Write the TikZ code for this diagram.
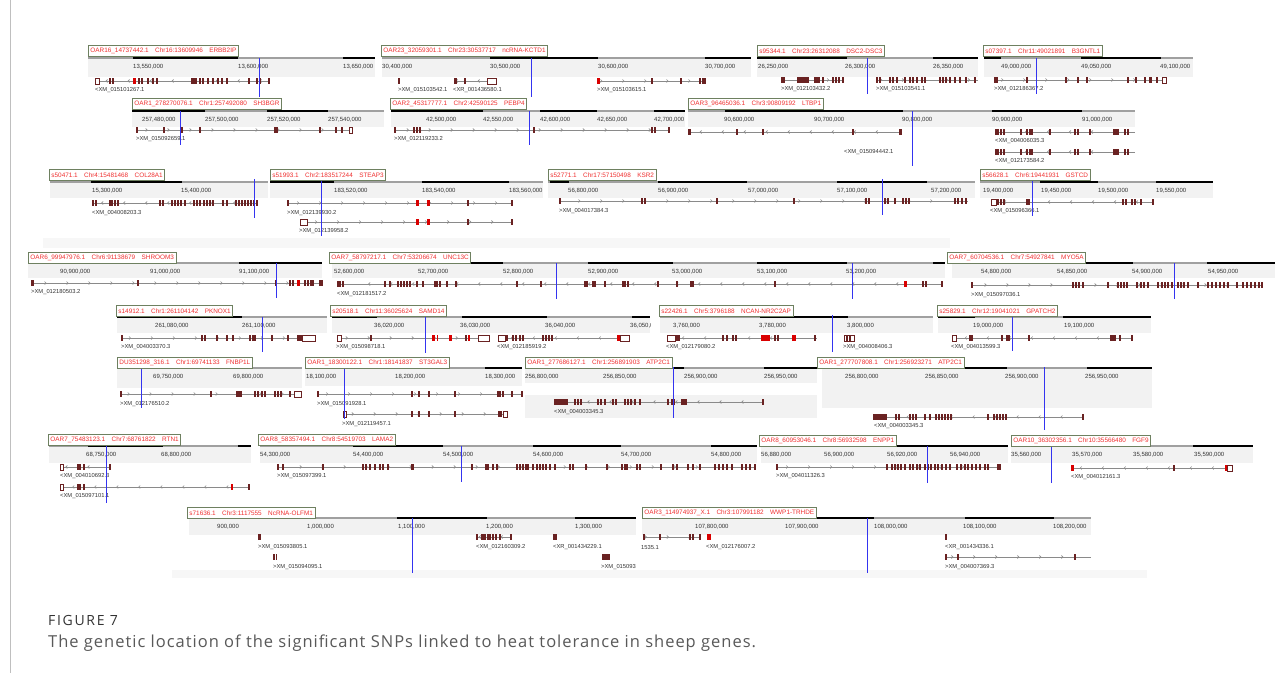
\documentclass[tikz,border=0pt]{standalone}
\usepackage{fontspec}
\setmainfont{Liberation Sans}
\newfontfamily\capfont{Open Sans}
\usetikzlibrary{decorations.markings,arrows.meta}
\definecolor{boxc}{HTML}{6E8060}
\definecolor{labred}{HTML}{F03030}
\definecolor{exc}{HTML}{6A2222}
\definecolor{snp}{HTML}{3434F0}
\definecolor{bandc}{HTML}{F2F2F2}
\definecolor{rulegray}{HTML}{A0A0A0}
\definecolor{gline}{HTML}{8A8A8A}
\newcounter{nn}
\newcommand\Lab[3]{\stepcounter{nn}\node[labbox,anchor=north west] (L\arabic{nn}) at (#1,#2) {#3};}
\newcommand\Band[4]{\fill[bandc] (#2,#1) rectangle (#3,#1+#4);}
\newcommand\Bar[3]{\draw[rulerg] (#2,#1) -- (#3,#1);}
\newcommand\Blk[3]{\draw[rulerb] (#2,#1) -- (#3,#1);}
\newcommand\Tk[3]{\stepcounter{nn}\node[tick,anchor=west] (T\arabic{nn}) at (#2,#1+9) {#3};}
\newcommand\Gn[4]{\draw[gl,#1] (#3,#2) -- (#4,#2);}
\newcommand\Ex[2]{\foreach \e in {#2}{\fill[exc] (\e-0.55,#1-3.2) rectangle (\e+0.55,#1+3.2);}}
\newcommand\Rx[3]{\fill[red!85!black] (#2,#1-3.2) rectangle (#2+#3,#1+3.2);}
\newcommand\Dx[3]{\fill[exc] (#2,#1-3.2) rectangle (#2+#3,#1+3.2);}
\newcommand\Ob[3]{\filldraw[fill=white,draw=exc,line width=.6pt] (#2,#1-3) rectangle (#3,#1+3);}
\newcommand\Gt[3]{\stepcounter{nn}\node[gtext,anchor=west] (G\arabic{nn}) at (#2,#1) {#3};}
\newcommand\Snp[3]{\draw[snpl] (#1,#2) -- (#1,#3);}
\tikzset{
 labbox/.style={draw=boxc,line width=0.9pt,fill=white,text=labred,font=\fontsize{6.4}{7}\selectfont,inner xsep=2pt,inner ysep=0pt,minimum height=11pt},
 tick/.style={font=\fontsize{6}{7}\selectfont,text=black!80,inner sep=0pt},
 gtext/.style={font=\fontsize{5.8}{7}\selectfont,text=black!80,inner sep=0pt},
 rulerg/.style={line width=2.2pt,draw=rulegray},
 rulerb/.style={line width=2.2pt,draw=black},
 gl/.style={draw=gline,line width=0.6pt},
 snpl/.style={draw=snp,line width=0.9pt},
 fwd/.style={postaction={decorate,decoration={markings,mark=between positions 0.05 and 0.95 step 22pt with {\arrow[gline]{Straight Barb[length=1.5pt,width=3pt]}}}}},
 rev/.style={postaction={decorate,decoration={markings,mark=between positions 0.05 and 0.95 step 22pt with {\arrowreversed[gline]{Straight Barb[length=1.5pt,width=3pt]}}}}},
 nodir/.style={}
}
\begin{document}
\begin{tikzpicture}[x=1pt,y=-1pt]
\fill[white] (0,0) rectangle (1281,673);
\useasboundingbox (0,0) rectangle (1281,673);
\draw[black!25,line width=1pt] (10,0) -- (10,673);
% faint strips
\fill[black!3] (43,238) rectangle (950,248);
\fill[black!3] (172,570) rectangle (1147,578);
% ================= ROW 1 =================
% P1
\Band{58}{88}{375}{19}\Bar{58}{88}{375}\Blk{58}{133}{238}\Blk{58}{343}{375}
\Tk{58}{133}{13,550,000}\Tk{58}{238}{13,600,000}\Tk{58}{343}{13,650,000}
\Gn{rev}{81}{97}{270}\Ob{81}{95}{99}\Ex{81}{110,113,139,142,148,153,157,192,194,196,200,203,208,213,218,222,227,249,257,260,269}\Rx{81}{132.5}{3}
\Gt{81+9}{95}{<XM\_015101267.1}
\Snp{259}{58}{97}
\Lab{88}{45}{OAR16\_14737442.1\quad Chr16:13609946\quad ERBB2IP}
% P2
\Band{58}{382}{751}{19}\Bar{58}{382}{751}\Blk{58}{490}{598}\Blk{58}{705}{751}
\Tk{58}{382}{30,400,000}\Tk{58}{490}{30,500,000}\Tk{58}{598}{30,600,000}\Tk{58}{705}{30,700,000}
\Ex{81}{399}\Gt{90}{398}{>XM\_015103542.1}
\Gn{rev}{81}{454}{487}\Ex{81}{454.5,456,465}\Ob{81}{487}{496}\Gt{90}{453}{<XR\_001436580.1}
\Gn{fwd}{81}{597}{705}\Rx{81}{597}{2.5}\Ex{81}{652,681,700,703,705}\Gt{90}{597}{>XM\_015103615.1}
\Snp{531}{58}{97}
\Lab{381}{45}{OAR23\_32059301.1\quad Chr23:30537717\quad ncRNA-KCTD1}
% P3
\Band{58}{757}{978}{19}\Bar{58}{757}{978}\Blk{58}{757}{847}\Blk{58}{933}{978}
\Tk{58}{758}{26,250,000}\Tk{58}{845}{26,300,000}\Tk{58}{933}{26,350,000}
\Gn{fwd}{80}{782}{844}\Ex{80}{782,784,798,800,802,804,806,808,815,817,819,823,833,836,839,843}\Gt{89}{781}{>XM\_012103432.2}
\Gn{fwd}{80}{877}{978}\Ex{80}{877,880,890,893,897,905,910,913,917,922,925,940,943,946,950,955,960,966,975}\Gt{89}{876}{>XM\_015103541.1}
\Snp{867}{58}{94}
\Lab{757}{45}{s95344.1\quad Chr23:26312088\quad DSC2-DSC3}
% P4
\Band{58}{984}{1193}{19}\Bar{58}{984}{1193}\Blk{58}{984}{1001}\Blk{58}{1081}{1161}
\Tk{58}{1001}{49,000,000}\Tk{58}{1081}{49,050,000}\Tk{58}{1160}{49,100,000}
\Gn{fwd}{80}{995}{1162}\Ex{80}{995,997,1027,1066,1078,1087,1128,1136,1145,1150,1151,1157}\Ob{80}{1162}{1166}\Gt{89}{994}{>XM\_012186367.2}
\Snp{1036}{58}{94}
\Lab{983}{45}{s07397.1\quad Chr11:49021891\quad B3GNTL1}
% ================= ROW 2 =================
% P5
\Band{111}{132}{384}{16}\Bar{111}{132}{384}\Blk{111}{132}{205}\Blk{111}{267}{328}
\Tk{111}{142}{257,480,000}\Tk{111}{205}{257,500,000}\Tk{111}{267}{257,520,000}\Tk{111}{328}{257,540,000}
\Gn{fwd}{130}{137}{349}\Ex{130}{137,164,182,200,275,277,320,336,342}\Ob{130}{349}{352}\Gt{139}{136}{>XM\_015092659.1}
\Snp{180}{111}{145}
\Lab{132}{98}{OAR1\_278270076.1\quad Chr1:257492080\quad SH3BGR}
% P6
\Band{111}{391}{685}{16}\Bar{111}{391}{685}\Blk{111}{391}{483}\Blk{111}{540}{597}\Blk{111}{654}{685}
\Tk{111}{426}{42,500,000}\Tk{111}{483}{42,550,000}\Tk{111}{540}{42,600,000}\Tk{111}{597}{42,650,000}\Tk{111}{654}{42,700,000}
\Gn{fwd}{130}{395}{670}\Ex{130}{395,414,417,420,534,652,655,669}\Gt{139}{394}{>XM\_012119233.2}
\Snp{529}{111}{145}
\Lab{390}{98}{OAR2\_45317777.1\quad Chr2:42590125\quad PEBP4}
% P7
\Band{111}{688}{1135}{16}\Bar{111}{688}{1135}\Blk{111}{725}{903}\Blk{111}{992}{1082}
\Tk{111}{724}{90,600,000}\Tk{111}{814}{90,700,000}\Tk{111}{902}{90,800,000}\Tk{111}{992}{90,900,000}\Tk{111}{1082}{91,000,000}
\Gn{rev}{132}{689}{902}\Ex{132}{689,690,737,763,853,900,901}\Gt{152}{844}{<XM\_015094442.1}
\Gn{rev}{132}{996}{1135}\Ex{132}{996,998,1001,1004,1021,1027,1030,1032,1050,1075,1078,1090,1114,1116,1118,1125,1128}\Gt{141}{995}{<XM\_004006035.3}
\Gn{rev}{152}{996}{1135}\Ex{152}{996,998,1001,1004,1021,1027,1030,1032,1050,1075,1078,1090,1114,1116,1118,1125,1128}\Gt{161}{995}{<XM\_012173584.2}
\Snp{912}{111}{166}
\Lab{688}{98}{OAR3\_96465036.1\quad Chr3:90809192\quad LTBP1}
% ================= ROW 3 =================
% P8
\Band{182}{50}{268}{16}\Bar{182}{50}{268}\Blk{182}{91}{182}
\Tk{182}{92}{15,300,000}\Tk{182}{181}{15,400,000}
\Gn{rev}{203}{93}{257}\Ex{203}{93,96,110,112,115,118,160,163,172,175,178,181,185,194,197,200,204,207,210,213,223,227,236,239,242,245,248,251,254,257}\Gt{213}{92}{<XM\_004008203.3}
\Snp{254}{179}{218}
\Lab{49}{169}{s50471.1\quad Chr4:15481468\quad COL28A1}
% P9
\Band{182}{270}{543}{16}\Bar{182}{270}{543}\Blk{182}{270}{334}\Blk{182}{422}{509}
\Tk{182}{334}{183,520,000}\Tk{182}{422}{183,540,000}\Tk{182}{509}{183,560,000}
\Gn{fwd}{203}{288}{512}\Ex{203}{288,468,512}\Rx{203}{416}{2.5}\Rx{203}{427}{2.5}\Gt{213}{287}{>XM\_012139930.2}
\Gn{fwd}{222}{307}{512}\Ob{222}{300}{307}\Ex{222}{468,512}\Rx{222}{416}{2.5}\Rx{222}{427}{2.5}\Gt{231}{299}{>XM\_012139958.2}
\Snp{321}{179}{236}
\Lab{270}{169}{s51993.1\quad Chr2:183517244\quad STEAP3}
% P10
\Band{182}{548}{975}{16}\Bar{182}{548}{975}\Blk{182}{550}{569}\Blk{182}{658}{747}\Blk{182}{837}{927}
\Tk{182}{568}{56,800,000}\Tk{182}{658}{56,900,000}\Tk{182}{748}{57,000,000}\Tk{182}{837}{57,100,000}\Tk{182}{931}{57,200,000}
\Gn{fwd}{201}{560}{968}\Ex{201}{560,642,645,717,794,866,869,885,888,895,903,906,909,955,958,962,966}\Gt{211}{559}{>XM\_004017384.3}
\Snp{882}{179}{215}
\Lab{548}{169}{s52771.1\quad Chr17:57150498\quad KSR2}
% P11
\Band{182}{980}{1213}{16}\Bar{182}{980}{1213}\Blk{182}{1040}{1098}\Blk{182}{1156}{1213}
\Tk{182}{983}{19,400,000}\Tk{182}{1041}{19,450,000}\Tk{182}{1098}{19,500,000}\Tk{182}{1156}{19,550,000}
\Gn{rev}{202}{996}{1154}\Ob{202}{991}{996}\Ex{202}{998,1001,1004,1027,1029,1123,1126,1132,1135,1141,1153}\Gt{211}{990}{<XM\_015096366.1}
\Snp{1032}{179}{216}
\Lab{980}{169}{s56628.1\quad Chr6:19441931\quad GSTCD}
% ================= ROW 4 =================
% P12
\Band{263}{28}{322}{15}\Bar{263}{28}{322}\Blk{263}{62}{150}\Blk{263}{239}{322}
\Tk{263}{60}{90,900,000}\Tk{263}{150}{91,000,000}\Tk{263}{239}{91,100,000}
\Gn{fwd}{283}{32}{322}\Ex{283}{32,33,138,276,290,293,305,308,311,313,320,322}\Rx{283}{297}{3}\Gt{292}{31}{>XM\_012180503.2}
\Snp{276}{263}{298}
\Lab{28}{252}{OAR6\_99947976.1\quad Chr6:91138679\quad SHROOM3}
% P13
\Band{263}{332}{945}{15}\Bar{263}{332}{945}\Blk{263}{418}{503}\Blk{263}{588}{673}\Blk{263}{757}{847}\Blk{263}{933}{945}
\Tk{263}{334}{52,600,000}\Tk{263}{418}{52,700,000}\Tk{263}{503}{52,800,000}\Tk{263}{588}{52,900,000}\Tk{263}{672}{53,000,000}\Tk{263}{757}{53,100,000}\Tk{263}{846}{53,200,000}
\Gn{rev}{284}{338}{942}\Ex{284}{338,340,343,385,390,398,401,404,407,410,417,423,435,437,440,447,456,517,541,585,587,593,595,605,623,625,628,658,677,691,692,693,775,923,926,942}\Rx{284}{904}{3}\Gt{294}{337}{<XM\_012181517.2}
\Snp{556}{263}{299}\Snp{852}{263}{299}
\Lab{329}{252}{OAR7\_58797217.1\quad Chr7:53206674\quad UNC13C}
% P14
\Band{263}{952}{1275}{15}\Bar{263}{952}{1275}\Blk{263}{952}{982}\Blk{263}{1055}{1133}\Blk{263}{1207}{1275}
\Tk{263}{981}{54,800,000}\Tk{263}{1057}{54,850,000}\Tk{263}{1132}{54,900,000}\Tk{263}{1208}{54,950,000}
\Gn{fwd}{285}{972}{1262}\Ex{285}{972,1073,1076,1079,1083,1108,1118,1121,1124,1127,1137,1141,1144,1148,1158,1162,1165,1168,1172,1178,1181,1184,1188,1198,1208,1212,1216,1220,1224,1228,1237,1243,1247,1251,1255,1259,1262}\Gt{295}{971}{>XM\_015097036.1}
\Snp{1174}{263}{299}
\Lab{947}{252}{OAR7\_60704536.1\quad Chr7:54927841\quad MYO5A}
% ================= ROW 5 =================
% P15
\Band{317}{117}{327}{16}\Bar{317}{117}{327}\Blk{317}{117}{242}
\Tk{317}{155}{261,080,000}\Tk{317}{242}{261,100,000}
\Gn{fwd}{338}{122}{302}\Ex{338}{122,202,205,217,227,233,250,253,255,272,288,298,300,302}\Ob{338}{302}{315}\Gt{347}{121}{>XM\_004003370.3}
\Snp{262}{317}{352}
\Lab{116}{305}{s14912.1\quad Chr1:261104142\quad PKNOX1}
% P16
\Band{317}{332}{650}{16}\Bar{317}{332}{650}\Blk{317}{332}{377}\Blk{317}{462}{547}\Blk{317}{632}{650}
\Tk{317}{374}{36,020,000}\Tk{317}{460}{36,030,000}\Tk{317}{545}{36,040,000}
\begin{scope}\clip (600,318) rectangle (650,340);\Tk{317}{630}{36,050,000}\end{scope}
\Gn{fwd}{338}{341}{478}\Ob{338}{337}{341}\Ex{338}{371,466}\Rx{338}{432}{3}\Rx{338}{436.5}{1.5}\Rx{338}{449}{3}\Rx{338}{468}{2}\Ob{338}{478}{489}\Gt{347}{336}{>XM\_015098718.1}
\Gn{rev}{338}{505}{620}\Ob{338}{498}{505}\Ex{338}{507,513,516,520,523,543,546,549,552}\Rx{338}{617}{2.5}\Ob{338}{620}{629}\Gt{347}{497}{<XM\_012185919.2}
\Snp{425}{317}{353}
\Lab{330}{305}{s20518.1\quad Chr11:36025624\quad SAMD14}
% P17
\Band{317}{660}{933}{16}\Bar{317}{660}{933}\Blk{317}{760}{848}
\Tk{317}{673}{3,760,000}\Tk{317}{759}{3,780,000}\Tk{317}{847}{3,800,000}
\Gn{rev}{338}{675}{817}\Ob{338}{667}{675}\Ex{338}{677,679,723,727,733,736,775,778,815}\Rx{338}{761}{9}\Rx{338}{792}{4}\Gt{347}{666}{<XM\_012179080.2}
\Ob{338}{844}{854}\Ex{338}{847,850}\Gt{347}{843}{>XM\_004008406.3}
\Snp{832}{315}{352}
\Lab{659}{305}{s22426.1\quad Chr5:3796188\quad NCAN-NR2C2AP}
% P18
\Band{317}{938}{1151}{16}\Bar{317}{938}{1151}\Blk{317}{938}{975}\Blk{317}{1063}{1151}
\Tk{317}{973}{19,000,000}\Tk{317}{1064}{19,100,000}
\Gn{rev}{338}{956}{1132}\Ob{338}{952}{956}\Ex{338}{970,972,1002,1007,1009,1029,1111,1113,1115,1120,1132}\Gt{347}{951}{<XM\_004013599.3}
\Snp{1012}{317}{351}
\Lab{937}{305}{s25829.1\quad Chr12:19041021\quad GPATCH2}
% ================= ROW 6 =================
% P19
\Band{368}{117}{302}{20}\Bar{368}{117}{302}\Blk{368}{155}{235}
\Tk{368}{153}{69,750,000}\Tk{368}{233}{69,800,000}
\Gn{fwd}{394}{121}{294}\Ex{394}{121,211,237,239,241,255,258,262,265,275,278,281,290}\Ob{394}{294}{301}\Gt{404}{120}{>XM\_012176510.2}
\Snp{141}{367}{408}
\Lab{117}{357}{DU351298\_316.1\quad Chr1:69741133\quad FNBP1L}
% P20
\Band{368}{305}{522}{18}\Bar{368}{305}{522}\Blk{368}{305}{397}\Blk{368}{485}{522}
\Tk{368}{306}{18,100,000}\Tk{368}{395}{18,200,000}\Tk{368}{485}{18,300,000}
\Gn{fwd}{394}{318}{522}\Ex{394}{318,412,419,429,455,498,500,503,512,522}\Gt{404}{317}{>XM\_015091928.1}
\Gn{fwd}{414}{346}{503}\Ob{414}{343}{346}\Ex{414}{412,419,429,455,499,501}\Ob{414}{503}{507}\Gt{424}{342}{>XM\_012119457.1}
\Snp{344}{367}{419}
\Lab{305}{357}{OAR1\_18300122.1\quad Chr1:18141837\quad ST3GAL3}
% P21
\Band{368}{525}{817}{15}\fill[bandc] (525,395) rectangle (817,418);\Bar{368}{525}{817}\Blk{368}{605}{684}\Blk{368}{764}{817}
\Tk{368}{525}{256,800,000}\Tk{368}{603}{256,850,000}\Tk{368}{684}{256,900,000}\Tk{368}{764}{256,950,000}
\Gn{rev}{402}{555}{763}\Ex{402}{555,557,559,561,563,565,567,575,578,581,598,601,605,613,616,625,628,631,635,640,668,672,674,682,684,686,763}\Gt{412}{554}{<XM\_004003345.3}
\Snp{673}{367}{418}
\Lab{525}{357}{OAR1\_277686127.1\quad Chr1:256891903\quad ATP2C1}
% P22
\Band{368}{822}{1152}{40}\Bar{368}{822}{1152}\Blk{368}{822}{847}\Blk{368}{927}{1007}\Blk{368}{1087}{1152}
\Tk{368}{845}{256,800,000}\Tk{368}{925}{256,850,000}\Tk{368}{1005}{256,900,000}\Tk{368}{1085}{256,950,000}
\Gn{rev}{417}{874}{1084}\Ex{417}{874,876,878,880,882,884,886,896,899,910,913,916,925,930,936,939,942,945,948,951,988,994,997,1000,1003,1006,1083}\Gt{426}{874}{<XM\_004003345.3}
\Snp{1044}{367}{430}
\Lab{817}{357}{OAR1\_277707808.1\quad Chr1:256923271\quad ATP2C1}
% ================= ROW 7 =================
% P23
\Band{446}{49}{251}{17}\Bar{446}{49}{251}\Blk{446}{88}{163}\Blk{446}{238}{251}
\Tk{446}{86}{68,750,000}\Tk{446}{161}{68,800,000}
\Gn{rev}{467}{63}{111}\Ob{467}{60}{63}\Ex{467}{78,80,84,110}\Gt{476}{60}{<XM\_004010692.3}
\Gn{rev}{487}{63}{249}\Ob{487}{60}{63}\Ex{487}{78,80,84,249}\Rx{487}{231}{2}\Gt{496}{60}{<XM\_015097101.1}
\Snp{106}{446}{503}
\Lab{48}{434}{OAR7\_75483123.1\quad Chr7:68761822\quad RTN1}
% P24
\Band{446}{260}{757}{17}\Bar{446}{260}{757}\Blk{446}{353}{443}\Blk{446}{533}{621}\Blk{446}{711}{757}
\Tk{446}{260}{54,300,000}\Tk{446}{353}{54,400,000}\Tk{446}{443}{54,500,000}\Tk{446}{533}{54,600,000}\Tk{446}{621}{54,700,000}\Tk{446}{711}{54,800,000}
\Gn{fwd}{467}{278}{755}\Ex{467}{278,283,323,363,366,370,375,380,383,388,412,413,472,486,488,493,497,517,520,523,526,528,533,537,540,543,546,550,555,570,573,586,607,622,625,627,637,640,661,673,677,688,693,700,715,719,723,727,732,742,746,750,755}\Gt{476}{277}{>XM\_015097399.1}
\Snp{461}{446}{482}
\Lab{258}{434}{OAR8\_58357494.1\quad Chr8:54519703\quad LAMA2}
% P25
\Band{446}{761}{1008}{17}\Bar{446}{761}{1008}\Blk{446}{761}{825}\Blk{446}{888}{1008}
\Tk{446}{761}{56,880,000}\Tk{446}{824}{56,900,000}\Tk{446}{887}{56,920,000}\Tk{446}{950}{56,940,000}
\Gn{fwd}{467}{777}{1000}\Ex{467}{777,887,892,895,898,901,905,910,913,917,920,925,928,931,935,938,942,946,950,957,961,965,968,972,976,980,985,988,998,1000}\Gt{476}{776}{>XM\_004011326.3}
\Snp{927}{446}{483}
\Lab{759}{435}{OAR8\_60953046.1\quad Chr8:56932598\quad ENPP1}
% P26
\Band{446}{1011}{1253}{17}\Bar{446}{1011}{1253}\Blk{446}{1071}{1133}\Blk{446}{1193}{1253}
\Tk{446}{1011}{35,560,000}\Tk{446}{1072}{35,570,000}\Tk{446}{1133}{35,580,000}\Tk{446}{1194}{35,590,000}
\Gn{rev}{468}{1072}{1228}\Rx{468}{1071}{2.5}\Ex{468}{1174}\Rx{468}{1225}{2.5}\Ob{468}{1227.5}{1232}\Gt{477}{1071}{<XM\_004012161.3}
\Snp{1051}{446}{483}
\Lab{1011}{435}{OAR10\_36302356.1\quad Chr10:35566480\quad FGF9}
% ================= ROW 8 =================
% P27
\Band{518}{189}{636}{17}\Bar{518}{189}{636}\Blk{518}{218}{307}\Blk{518}{397}{487}\Blk{518}{575}{636}
\Tk{518}{217}{900,000}\Tk{518}{307}{1,000,000}\Tk{518}{398}{1,100,000}\Tk{518}{486}{1,200,000}\Tk{518}{575}{1,300,000}
\Dx{537}{258}{3}\Gt{547}{258}{>XM\_015093805.1}
\Dx{557}{273}{1.5}\Dx{557}{275.5}{1.5}\Gt{567}{273}{>XM\_015094095.1}
\Gn{rev}{537}{477}{511}\Ex{537}{477,482,488,490,493,496,500,511}\Dx{537}{483}{3}\Gt{547}{476}{<XM\_012160309.2}
\Ex{537}{554,556}\Gt{547}{553}{<XR\_001434229.1}
\Dx{557}{602}{8}\Gt{567}{601}{>XM\_015093}
\Snp{412}{518}{573}
\Lab{187}{507}{s71636.1\quad Chr3:1117555\quad NcRNA-OLFM1}
% P28
\Band{518}{642}{1091}{17}\Bar{518}{642}{1091}\Blk{518}{642}{697}\Blk{518}{785}{874}\Blk{518}{965}{1054}
\Tk{518}{695}{107,800,000}\Tk{518}{785}{107,900,000}\Tk{518}{874}{108,000,000}\Tk{518}{963}{108,100,000}\Tk{518}{1053}{108,200,000}
\Gn{fwd}{537}{644}{700}\Ex{537}{644,660,690,693,700}\Gt{547}{641}{1535.1}
\Rx{537}{707}{4}\Gt{547}{706}{<XM\_012176007.2}
\Ex{537}{946}\Gt{547}{945}{<XR\_001434336.1}
\Gn{fwd}{557}{946}{1091}\Ex{557}{946,958,1075}\Gt{567}{945}{>XM\_004007369.3}
\Snp{867}{518}{573}
\Lab{642}{507}{OAR3\_114974937\_X.1\quad Chr3:107991182\quad WWP1-TRHDE}
% ================= CAPTION =================
\node[anchor=west,inner sep=0pt,text=black!80,font=\capfont\fontsize{14}{16}\selectfont\addfontfeatures{LetterSpace=12}] (fig) at (48,620) {FIGURE 7};
\node[anchor=west,inner sep=0pt,text=black!65,font=\capfont\fontsize{16.5}{19}\selectfont\addfontfeatures{LetterSpace=6}] (cap) at (48,643) {The genetic location of the significant SNPs linked to heat tolerance in sheep genes.};
\end{tikzpicture}
\end{document}
